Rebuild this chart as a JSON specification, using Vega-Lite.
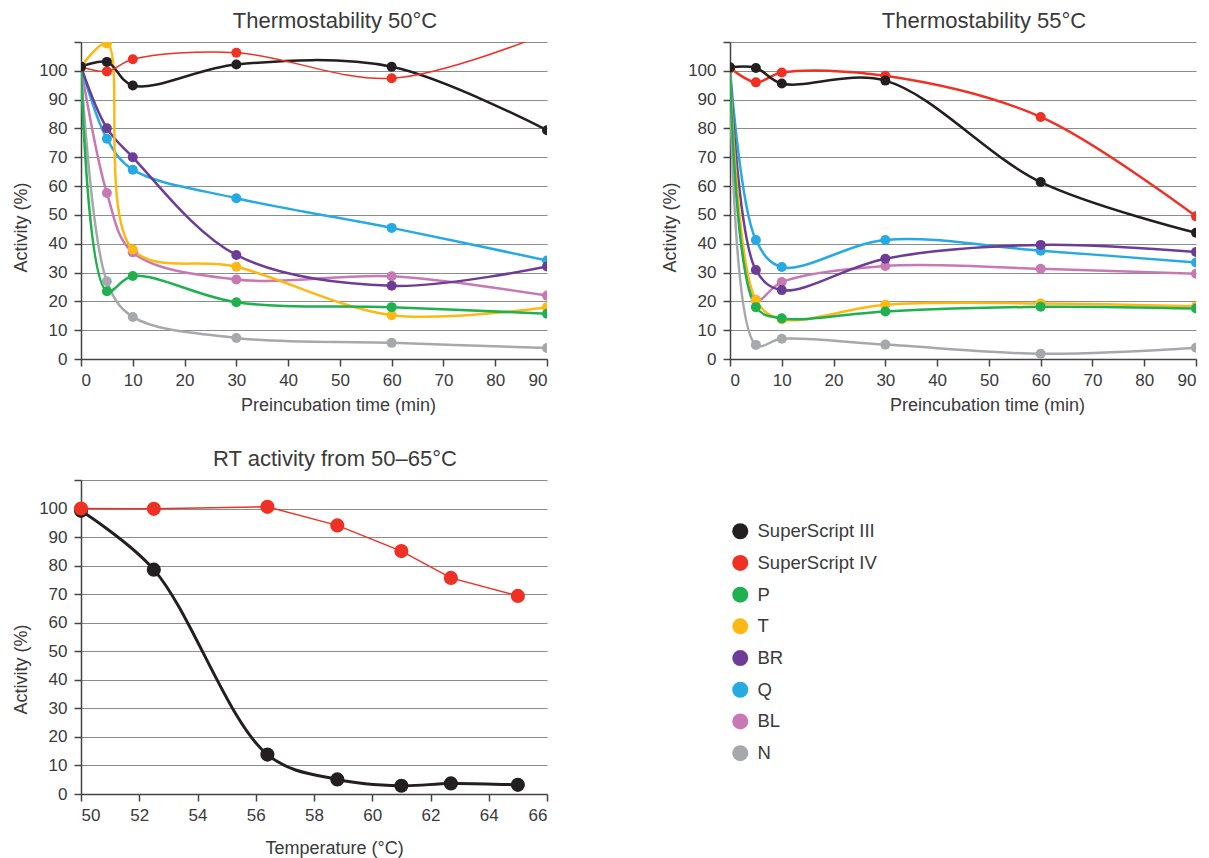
{
  "$schema": "https://vega.github.io/schema/vega-lite/v6.json",
  "background": "white",
  "padding": {"left": 12, "top": 10, "right": 5, "bottom": 5},
  "config": {
    "font": "Liberation Sans",
    "view": {"stroke": null},
    "axis": {
      "labelFont": "Liberation Sans", "labelFontSize": 17, "labelColor": "#3a3a3a",
      "titleFont": "Liberation Sans", "titleFontSize": 18, "titleFontWeight": "normal", "titleColor": "#3a3a3a",
      "domainColor": "#444", "domainWidth": 1.5, "tickColor": "#444", "tickWidth": 1.5, "tickSize": 7,
      "labelPadding": 6, "gridColor": "#8c8c8c", "gridWidth": 1.2
    },
    "axisX": {"grid": false, "titlePadding": 8},
    "axisY": {"grid": true, "titlePadding": 8, "labelPadding": 7},
    "title": {"font": "Liberation Sans", "fontSize": 22, "fontWeight": "normal", "color": "#3a3a3a", "anchor": "middle", "offset": 8, "dx": 21},
    "legend": {"orient": "none", "legendX": 650, "legendY": 480, "symbolType": "circle", "symbolSize": 256, "symbolStrokeWidth": 0, "labelFont": "Liberation Sans", "labelFontSize": 18.5, "labelColor": "#3a3a3a", "labelOffset": 8, "rowPadding": 12.7, "padding": 0}
  },
  "datasets": {
    "t50": [
      {"series": "N", "t": 0, "activity": 101.4}, {"series": "N", "t": 5, "activity": 27}, {"series": "N", "t": 10, "activity": 14.6}, {"series": "N", "t": 30, "activity": 7.3}, {"series": "N", "t": 60, "activity": 5.6}, {"series": "N", "t": 90, "activity": 3.8},
      {"series": "BL", "t": 0, "activity": 101.4}, {"series": "BL", "t": 5, "activity": 57.6}, {"series": "BL", "t": 10, "activity": 37}, {"series": "BL", "t": 30, "activity": 27.6}, {"series": "BL", "t": 60, "activity": 28.7}, {"series": "BL", "t": 90, "activity": 22},
      {"series": "Q", "t": 0, "activity": 101.4}, {"series": "Q", "t": 5, "activity": 76.4}, {"series": "Q", "t": 10, "activity": 65.7}, {"series": "Q", "t": 30, "activity": 55.8}, {"series": "Q", "t": 60, "activity": 45.5}, {"series": "Q", "t": 90, "activity": 34.2},
      {"series": "BR", "t": 0, "activity": 101.4}, {"series": "BR", "t": 5, "activity": 80.1}, {"series": "BR", "t": 10, "activity": 70}, {"series": "BR", "t": 30, "activity": 36.1}, {"series": "BR", "t": 60, "activity": 25.4}, {"series": "BR", "t": 90, "activity": 32.1},
      {"series": "T", "t": 0, "activity": 101.4}, {"series": "T", "t": 5, "activity": 109.5}, {"series": "T", "t": 10, "activity": 38}, {"series": "T", "t": 30, "activity": 32}, {"series": "T", "t": 60, "activity": 15.2}, {"series": "T", "t": 90, "activity": 18},
      {"series": "P", "t": 0, "activity": 101.4}, {"series": "P", "t": 5, "activity": 23.5}, {"series": "P", "t": 10, "activity": 28.8}, {"series": "P", "t": 30, "activity": 19.7}, {"series": "P", "t": 60, "activity": 18}, {"series": "P", "t": 90, "activity": 15.7},
      {"series": "SuperScript IV", "t": 0, "activity": 101.4}, {"series": "SuperScript IV", "t": 5, "activity": 99.8}, {"series": "SuperScript IV", "t": 10, "activity": 104}, {"series": "SuperScript IV", "t": 30, "activity": 106.3}, {"series": "SuperScript IV", "t": 60, "activity": 97.4}, {"series": "SuperScript IV", "t": 90, "activity": 113},
      {"series": "SuperScript III", "t": 0, "activity": 101.4}, {"series": "SuperScript III", "t": 5, "activity": 103.1}, {"series": "SuperScript III", "t": 10, "activity": 94.9}, {"series": "SuperScript III", "t": 30, "activity": 102.2}, {"series": "SuperScript III", "t": 60, "activity": 101.4}, {"series": "SuperScript III", "t": 90, "activity": 79.4}
    ],
    "t55": [
      {"series": "N", "t": 0, "activity": 101}, {"series": "N", "t": 5, "activity": 4.9}, {"series": "N", "t": 10, "activity": 7}, {"series": "N", "t": 30, "activity": 5}, {"series": "N", "t": 60, "activity": 1.8}, {"series": "N", "t": 90, "activity": 3.9},
      {"series": "BL", "t": 0, "activity": 101}, {"series": "BL", "t": 5, "activity": 20.5}, {"series": "BL", "t": 10, "activity": 26.7}, {"series": "BL", "t": 30, "activity": 32.3}, {"series": "BL", "t": 60, "activity": 31.3}, {"series": "BL", "t": 90, "activity": 29.6},
      {"series": "Q", "t": 0, "activity": 101}, {"series": "Q", "t": 5, "activity": 41.3}, {"series": "Q", "t": 10, "activity": 31.9}, {"series": "Q", "t": 30, "activity": 41.3}, {"series": "Q", "t": 60, "activity": 37.6}, {"series": "Q", "t": 90, "activity": 33.5},
      {"series": "BR", "t": 0, "activity": 101}, {"series": "BR", "t": 5, "activity": 30.9}, {"series": "BR", "t": 10, "activity": 23.9}, {"series": "BR", "t": 30, "activity": 34.8}, {"series": "BR", "t": 60, "activity": 39.6}, {"series": "BR", "t": 90, "activity": 37.1},
      {"series": "T", "t": 0, "activity": 101}, {"series": "T", "t": 5, "activity": 20.5}, {"series": "T", "t": 10, "activity": 13.8}, {"series": "T", "t": 30, "activity": 18.8}, {"series": "T", "t": 60, "activity": 19.3}, {"series": "T", "t": 90, "activity": 18.3},
      {"series": "P", "t": 0, "activity": 101}, {"series": "P", "t": 5, "activity": 18}, {"series": "P", "t": 10, "activity": 14.1}, {"series": "P", "t": 30, "activity": 16.5}, {"series": "P", "t": 60, "activity": 18.1}, {"series": "P", "t": 90, "activity": 17.5},
      {"series": "SuperScript IV", "t": 0, "activity": 101}, {"series": "SuperScript IV", "t": 5, "activity": 96}, {"series": "SuperScript IV", "t": 10, "activity": 99.4}, {"series": "SuperScript IV", "t": 30, "activity": 98.3}, {"series": "SuperScript IV", "t": 60, "activity": 84}, {"series": "SuperScript IV", "t": 90, "activity": 49.5},
      {"series": "SuperScript III", "t": 0, "activity": 101.2}, {"series": "SuperScript III", "t": 5, "activity": 101}, {"series": "SuperScript III", "t": 10, "activity": 95.6}, {"series": "SuperScript III", "t": 30, "activity": 96.6}, {"series": "SuperScript III", "t": 60, "activity": 61.4}, {"series": "SuperScript III", "t": 90, "activity": 43.8}
    ],
    "rt": [
      {"series": "SuperScript III", "temp": 50, "activity": 99.2}, {"series": "SuperScript III", "temp": 52.5, "activity": 78.6}, {"series": "SuperScript III", "temp": 56.4, "activity": 13.8}, {"series": "SuperScript III", "temp": 58.8, "activity": 5.1}, {"series": "SuperScript III", "temp": 61, "activity": 2.9}, {"series": "SuperScript III", "temp": 62.7, "activity": 3.7}, {"series": "SuperScript III", "temp": 65, "activity": 3.2},
      {"series": "SuperScript IV", "temp": 50, "activity": 100}, {"series": "SuperScript IV", "temp": 52.5, "activity": 99.9}, {"series": "SuperScript IV", "temp": 56.4, "activity": 100.6}, {"series": "SuperScript IV", "temp": 58.8, "activity": 94.1}, {"series": "SuperScript IV", "temp": 61, "activity": 85.1}, {"series": "SuperScript IV", "temp": 62.7, "activity": 75.7}, {"series": "SuperScript IV", "temp": 65, "activity": 69.4}
    ]
  },
  "spacing": 34,
  "vconcat": [
    {
      "spacing": 113,
      "hconcat": [
        {
          "title": "Thermostability 50°C",
          "width": 466, "height": 317,
          "data": {"name": "t50"},
          "encoding": {
            "x": {"field": "t", "type": "quantitative", "scale": {"domain": [0, 90], "nice": false}, "axis": {"values": [0, 10, 20, 30, 40, 50, 60, 70, 80, 90], "title": "Preincubation time (min)", "titleX": 257}},
            "y": {"field": "activity", "type": "quantitative", "scale": {"domain": [0, 110], "nice": false}, "axis": {"values": [0, 10, 20, 30, 40, 50, 60, 70, 80, 90, 100, 110], "labelExpr": "datum.value > 100 ? '' : datum.label", "title": "Activity (%)", "titleY": 185}}
          },
          "layer": [
            {"transform": [{"filter": "datum.series !== 'SuperScript IV'"}], "mark": {"type": "line", "interpolate": "catmull-rom", "strokeWidth": 2.5, "clip": true},
             "encoding": {"stroke": {"field": "series", "type": "nominal", "scale": {"domain": ["N", "BL", "Q", "BR", "T", "P", "SuperScript IV", "SuperScript III"], "range": ["#a6a8ab", "#c879b4", "#27aae1", "#6c3d97", "#fdb913", "#1fb050", "#ee3124", "#231f20"]}, "legend": null}}},
            {"transform": [{"filter": "datum.series === 'SuperScript IV'"}], "mark": {"type": "line", "interpolate": "catmull-rom", "strokeWidth": 1.5, "clip": true},
             "encoding": {"stroke": {"field": "series", "type": "nominal", "scale": {"domain": ["N", "BL", "Q", "BR", "T", "P", "SuperScript IV", "SuperScript III"], "range": ["#a6a8ab", "#c879b4", "#27aae1", "#6c3d97", "#fdb913", "#1fb050", "#ee3124", "#231f20"]}, "legend": null}}},
            {"mark": {"type": "point", "filled": true, "size": 100, "opacity": 1, "clip": true},
             "encoding": {"color": {"field": "series", "type": "nominal", "scale": {"domain": ["SuperScript III", "SuperScript IV", "P", "T", "BR", "Q", "BL", "N"], "range": ["#231f20", "#ee3124", "#1fb050", "#fdb913", "#6c3d97", "#27aae1", "#c879b4", "#a6a8ab"]}, "legend": {"title": null}}}}
          ]
        },
        {
          "title": "Thermostability 55°C",
          "width": 466, "height": 317,
          "data": {"name": "t55"},
          "encoding": {
            "x": {"field": "t", "type": "quantitative", "scale": {"domain": [0, 90], "nice": false}, "axis": {"values": [0, 10, 20, 30, 40, 50, 60, 70, 80, 90], "title": "Preincubation time (min)", "titleX": 257}},
            "y": {"field": "activity", "type": "quantitative", "scale": {"domain": [0, 110], "nice": false}, "axis": {"values": [0, 10, 20, 30, 40, 50, 60, 70, 80, 90, 100, 110], "labelExpr": "datum.value > 100 ? '' : datum.label", "title": "Activity (%)", "titleY": 185}}
          },
          "layer": [
            {"mark": {"type": "line", "interpolate": "catmull-rom", "strokeWidth": 2.5, "clip": true},
             "encoding": {"stroke": {"field": "series", "type": "nominal", "scale": {"domain": ["N", "BL", "Q", "BR", "T", "P", "SuperScript IV", "SuperScript III"], "range": ["#a6a8ab", "#c879b4", "#27aae1", "#6c3d97", "#fdb913", "#1fb050", "#ee3124", "#231f20"]}, "legend": null}}},
            {"mark": {"type": "point", "filled": true, "size": 100, "opacity": 1, "clip": true},
             "encoding": {"color": {"field": "series", "type": "nominal", "scale": {"domain": ["SuperScript III", "SuperScript IV", "P", "T", "BR", "Q", "BL", "N"], "range": ["#231f20", "#ee3124", "#1fb050", "#fdb913", "#6c3d97", "#27aae1", "#c879b4", "#a6a8ab"]}, "legend": {"title": null}}}}
          ]
        }
      ]
    },
    {
      "title": "RT activity from 50–65°C",
      "width": 466, "height": 314,
      "data": {"name": "rt"},
      "encoding": {
        "x": {"field": "temp", "type": "quantitative", "scale": {"domain": [50, 66], "nice": false}, "axis": {"values": [50, 52, 54, 56, 58, 60, 62, 64, 66], "title": "Temperature (°C)", "titlePadding": 16, "titleX": 253}},
        "y": {"field": "activity", "type": "quantitative", "scale": {"domain": [0, 110], "nice": false}, "axis": {"values": [0, 10, 20, 30, 40, 50, 60, 70, 80, 90, 100, 110], "labelExpr": "datum.value > 100 ? '' : datum.label", "title": "Activity (%)", "titleY": 189}}
      },
      "layer": [
        {"transform": [{"filter": "datum.series === 'SuperScript III'"}], "mark": {"type": "line", "interpolate": "catmull-rom", "strokeWidth": 3},
         "encoding": {"stroke": {"field": "series", "type": "nominal", "scale": {"domain": ["N", "BL", "Q", "BR", "T", "P", "SuperScript IV", "SuperScript III"], "range": ["#a6a8ab", "#c879b4", "#27aae1", "#6c3d97", "#fdb913", "#1fb050", "#ee3124", "#231f20"]}, "legend": null}}},
        {"transform": [{"filter": "datum.series === 'SuperScript IV'"}], "mark": {"type": "line", "interpolate": "linear", "strokeWidth": 1.5},
         "encoding": {"stroke": {"field": "series", "type": "nominal", "scale": {"domain": ["N", "BL", "Q", "BR", "T", "P", "SuperScript IV", "SuperScript III"], "range": ["#a6a8ab", "#c879b4", "#27aae1", "#6c3d97", "#fdb913", "#1fb050", "#ee3124", "#231f20"]}, "legend": null}}},
        {"mark": {"type": "point", "filled": true, "size": 200, "opacity": 1},
         "encoding": {"color": {"field": "series", "type": "nominal", "scale": {"domain": ["SuperScript III", "SuperScript IV", "P", "T", "BR", "Q", "BL", "N"], "range": ["#231f20", "#ee3124", "#1fb050", "#fdb913", "#6c3d97", "#27aae1", "#c879b4", "#a6a8ab"]}, "legend": {"title": null}}}}
      ]
    }
  ]
}
